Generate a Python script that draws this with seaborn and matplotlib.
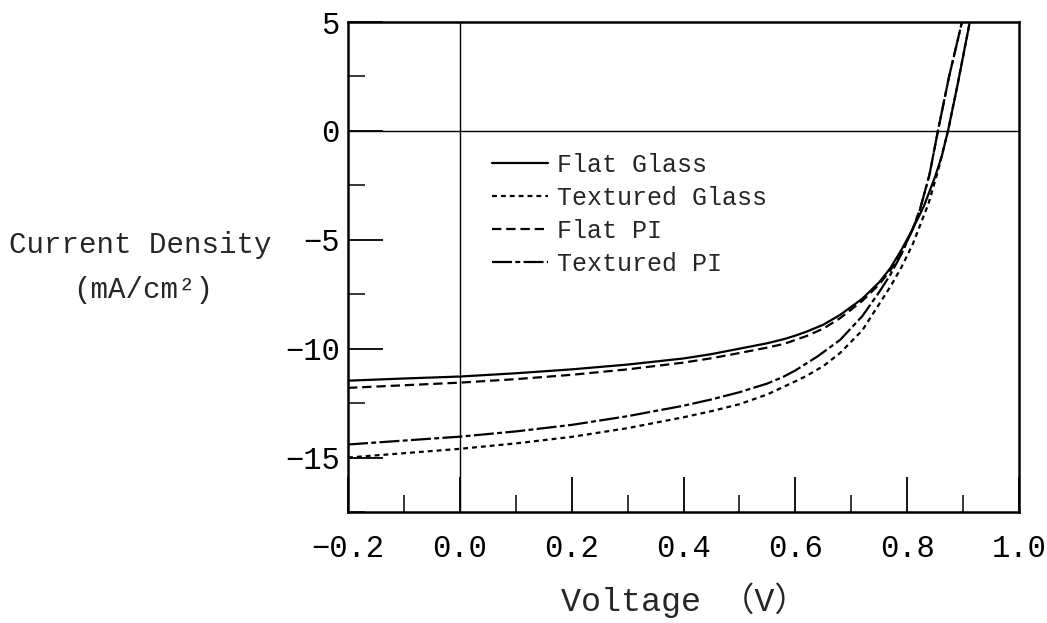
import numpy as np
import pandas as pd
import matplotlib
matplotlib.use("Agg")
import matplotlib.pyplot as plt
import seaborn as sns
from matplotlib.ticker import MultipleLocator

sns.set_style("ticks")
plt.rcParams['font.family'] = ['Liberation Mono', 'Noto Sans CJK JP', 'DejaVu Sans']

series_names = ["Flat Glass", "Textured Glass", "Flat PI", "Textured PI"]

v_flat_glass = [-0.2, -0.1, 0.0, 0.1, 0.2, 0.3, 0.4, 0.45, 0.5, 0.55, 0.58, 0.6, 0.62, 0.65, 0.68, 0.72, 0.75, 0.77, 0.79, 0.81, 0.83, 0.85, 0.862, 0.873, 0.89, 0.912, 0.925]
j_flat_glass = [-11.47, -11.37, -11.28, -11.13, -10.95, -10.73, -10.45, -10.25, -10.0, -9.75, -9.56, -9.4, -9.22, -8.9, -8.45, -7.7, -6.95, -6.3, -5.45, -4.5, -3.45, -2.1, -1.15, 0.0, 2.1, 5.0, 6.7]

v_tex_glass = [-0.2, -0.1, 0.0, 0.1, 0.2, 0.3, 0.4, 0.45, 0.5, 0.55, 0.6, 0.62, 0.65, 0.68, 0.72, 0.75, 0.77, 0.79, 0.81, 0.838, 0.855, 0.873, 0.89, 0.912, 0.925]
j_tex_glass = [-15.0, -14.8, -14.6, -14.35, -14.05, -13.65, -13.15, -12.87, -12.55, -12.1, -11.5, -11.25, -10.8, -10.2, -9.15, -7.95, -7.15, -6.25, -5.2, -3.35, -1.85, 0.0, 2.1, 5.0, 6.7]

v_flat_pi = [-0.2, -0.1, 0.0, 0.1, 0.2, 0.3, 0.4, 0.45, 0.5, 0.55, 0.58, 0.6, 0.62, 0.65, 0.68, 0.72, 0.75, 0.77, 0.79, 0.81, 0.823, 0.84, 0.855, 0.875, 0.898, 0.91]
j_flat_pi = [-11.8, -11.68, -11.56, -11.4, -11.2, -10.95, -10.64, -10.44, -10.2, -9.95, -9.78, -9.6, -9.42, -9.08, -8.6, -7.8, -7.05, -6.4, -5.6, -4.5, -3.6, -2.0, 0.0, 2.5, 5.0, 6.3]

v_tex_pi = [-0.2, -0.1, 0.0, 0.1, 0.2, 0.3, 0.4, 0.45, 0.5, 0.55, 0.578, 0.6, 0.64, 0.68, 0.72, 0.75, 0.77, 0.79, 0.81, 0.823, 0.84, 0.855, 0.875, 0.898, 0.91]
j_tex_pi = [-14.4, -14.22, -14.04, -13.8, -13.5, -13.1, -12.62, -12.33, -12.0, -11.6, -11.3, -11.0, -10.35, -9.6, -8.5, -7.4, -6.6, -5.65, -4.5, -3.6, -2.0, 0.0, 2.5, 5.0, 6.3]

x_ticks = [-0.2, 0.0, 0.2, 0.4, 0.6, 0.8, 1.0]
y_ticks = [5, 0, -5, -10, -15]

frames = []
for name, v, j in [("Flat Glass", v_flat_glass, j_flat_glass),
                   ("Textured Glass", v_tex_glass, j_tex_glass),
                   ("Flat PI", v_flat_pi, j_flat_pi),
                   ("Textured PI", v_tex_pi, j_tex_pi)]:
    frames.append(pd.DataFrame({"V": v, "J": j, "series": name}))
df = pd.concat(frames, ignore_index=True)

styles = {
    "Flat Glass": None,
    "Textured Glass": (2.2, 1.8),
    "Flat PI": (4.2, 2.2),
    "Textured PI": (9, 1.5, 2.2, 1.5),
}

fig = plt.figure(figsize=(10.47, 6.23), dpi=100)
ax = fig.add_axes([348/1047, 1 - 512/623, (1019-348)/1047, (512-22)/623])

for name in series_names:
    sub = df[df["series"] == name]
    sns.lineplot(data=sub, x="V", y="J", ax=ax, sort=False, estimator=None,
                 color="black", lw=1.6, label=name)
    ln = ax.get_lines()[-1]
    if styles[name] is None:
        ln.set_linestyle("-")
    else:
        ln.set_dashes(styles[name])

ax.axhline(0, color="black", lw=1.0)
ax.axvline(0, color="black", lw=1.0)

ax.set_xlim(-0.2, 1.0)
ax.set_ylim(-17.5, 5)
ax.set_xticks(x_ticks)
ax.set_xticklabels([f"{t:.1f}".replace("-", "\u2212") for t in x_ticks])
ax.set_yticks(y_ticks)
ax.set_yticklabels([f"{t:d}".replace("-", "\u2212") for t in y_ticks])
ax.xaxis.set_minor_locator(MultipleLocator(0.1))
ax.yaxis.set_minor_locator(MultipleLocator(2.5))
ax.tick_params(axis="both", which="major", direction="in", length=25, width=1.3,
               labelsize=22, colors="black")
ax.tick_params(axis="x", which="major", pad=16)
ax.tick_params(axis="y", which="major", pad=6)
ax.tick_params(axis="both", which="minor", direction="in", length=12, width=1.3)
for s in ax.spines.values():
    s.set_linewidth(1.8)
    s.set_color("black")
    s.set_visible(True)
ax.set_xlabel("")
ax.set_ylabel("")

leg = ax.legend(loc="upper left", bbox_to_anchor=((492-348)/671, 1 - (153-22)/490),
                frameon=False, fontsize=18, handlelength=2.25, handletextpad=0.35,
                labelspacing=0.36, borderaxespad=0, borderpad=0)

fig.text(684/1047, 1 - 600/623, "Voltage （V）", ha="center", va="center", fontsize=24)
fig.text(140/1047, 1 - 245/623, "Current Density", ha="center", va="center", fontsize=21)
fig.text(143/1047, 1 - 290/623, "(mA/cm\u00b2)", ha="center", va="center", fontsize=21)

fig.savefig("out.png", dpi=100)
